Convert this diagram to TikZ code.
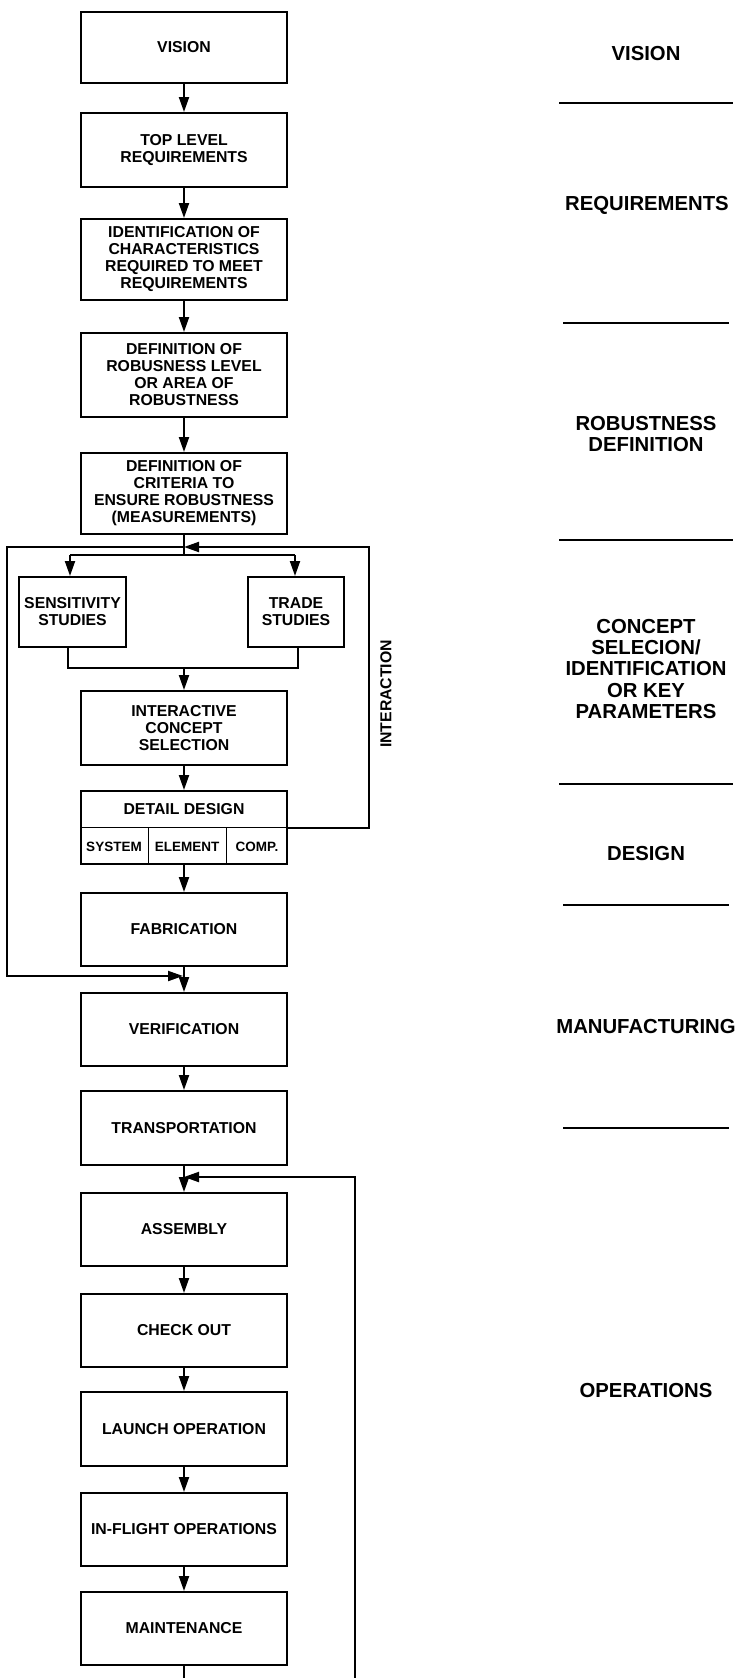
\documentclass[tikz,border=0pt]{standalone}
\usepackage{fontspec}
\setmainfont{Liberation Sans}
\usetikzlibrary{arrows.meta,calc}
\begin{document}
\begin{tikzpicture}[x=1pt,y=-1pt,
  box/.style={draw,line width=2pt,minimum width=206pt,inner sep=0pt,align=center,font=\bfseries\fontsize{15.8}{17}\selectfont},
  txt/.style={inner sep=0pt,align=center,font=\bfseries\fontsize{15.8}{17}\selectfont},
  small/.style={inner sep=0pt,align=center,font=\bfseries\fontsize{13.5}{14}\selectfont},
  lab/.style={align=center,inner sep=0pt,font=\bfseries\fontsize{20.3}{21.4}\selectfont},
  conn/.style={line width=2pt},
  arr/.style={line width=2pt,-{Triangle[length=15pt,width=10pt]}},
  sepline/.style={line width=2pt},
  thinline/.style={line width=1pt}]
\useasboundingbox (0,0) rectangle (739,1678);

% main column
\node[box,minimum height=71pt] (vision) at (184,47.5) {VISION};
\node[box,minimum height=74pt] (toplevel) at (184,150) {TOP LEVEL\\REQUIREMENTS};
\node[box,minimum height=81pt] (ident) at (184,259.5) {IDENTIFICATION OF\\CHARACTERISTICS\\REQUIRED TO MEET\\REQUIREMENTS};
\node[box,minimum height=84pt] (robus) at (184,375) {DEFINITION OF\\ROBUSNESS LEVEL\\OR AREA OF\\ROBUSTNESS};
\node[box,minimum height=81pt] (crit) at (184,493.5) {DEFINITION OF\\CRITERIA TO\\ENSURE ROBUSTNESS\\(MEASUREMENTS)};
\node[box,minimum width=107pt,minimum height=70pt] (sens) at (72.5,612) {SENSITIVITY\\STUDIES};
\node[box,minimum width=96pt,minimum height=70pt] (trade) at (296,612) {TRADE\\STUDIES};
\node[box,minimum height=74pt] (inter) at (184,728) {INTERACTIVE\\CONCEPT\\SELECTION};
\node[box,minimum height=73pt] (detail) at (184,827.5) {};
\node[box,minimum height=73pt] (fab) at (184,929.5) {FABRICATION};
\node[box,minimum height=73pt] (verif) at (184,1029.5) {VERIFICATION};
\node[box,minimum height=74pt] (trans) at (184,1128) {TRANSPORTATION};
\node[box,minimum height=73pt] (assem) at (184,1229.5) {ASSEMBLY};
\node[box,minimum height=73pt] (check) at (184,1330.5) {CHECK OUT};
\node[box,minimum height=74pt] (launch) at (184,1429) {LAUNCH OPERATION};
\node[box,minimum height=73pt] (inflight) at (184,1529.5) {IN-FLIGHT OPERATIONS};
\node[box,minimum height=73pt] (maint) at (184,1628.5) {MAINTENANCE};

% detail design internals
\draw[thinline] (detail.west) -- (detail.east);
\coordinate (d1) at (148,827.5);
\coordinate (d2) at (226,827.5);
\draw[thinline] (d1) -- (d1 |- detail.south);
\draw[thinline] (d2) -- (d2 |- detail.south);
\node[txt] (ddt) at (184,809) {DETAIL DESIGN};
\node[small] (sys) at (114,846.5) {SYSTEM};
\node[small] (elem) at (187,846.5) {ELEMENT};
\node[small] (comp) at (257,846.5) {COMP.};

% straight arrows
\draw[arr] (vision) -- (toplevel);
\draw[arr] (toplevel) -- (ident);
\draw[arr] (ident) -- (robus);
\draw[arr] (robus) -- (crit);
\draw[arr] (inter) -- (detail);
\draw[arr] (detail) -- (fab);
\draw[arr] (fab) -- (verif);
\draw[arr] (verif) -- (trans);
\draw[arr] (trans) -- (assem);
\draw[arr] (assem) -- (check);
\draw[arr] (check) -- (launch);
\draw[arr] (launch) -- (inflight);
\draw[arr] (inflight) -- (maint);

% branch to studies
\coordinate (br) at (184,555);
\coordinate (bl) at (70,555);
\coordinate (brr) at (295,555);
\draw[conn] (crit) -- (br);
\draw[conn] (bl) -- (brr);
\draw[arr] (bl) -- (bl |- sens.north);
\draw[arr] (brr) -- (brr |- trade.north);

% merge
\coordinate (ml) at (68,668);
\coordinate (mr) at (298,668);
\draw[conn] (ml |- sens.south) -- (ml) -- (mr) -- (mr |- trade.south);
\draw[arr] (inter.north |- ml) -- (inter);

% interaction loop
\coordinate (j1) at (184,547);
\coordinate (rt) at (369,547);
\draw[arr] (detail.east) -| (rt) -- (j1);
\node[txt,rotate=90] (ilab) at (386,694) {INTERACTION};

% outer left loop
\coordinate (lt) at (7,547);
\coordinate (lb) at (7,976);
\coordinate (j2) at (184,976);
\draw[arr,shorten >=1pt] (j1) -- (lt) -- (lb) -- (j2);

% bottom feedback
\coordinate (mb) at (184,1678);
\coordinate (rb) at (355,1678);
\coordinate (j3) at (184,1177);
\draw[conn] (maint) -- (mb);
\draw[arr] (rb) |- (j3);

% right column
\node[lab] (lvision) at (646,53.6) {VISION};
\node[lab] (lreq) at (647,205) {REQUIREMENTS};
\node[lab] (lrob) at (646,434) {ROBUSTNESS\\DEFINITION};
\node[lab] (lcon) at (646,669) {CONCEPT\\SELECION/\\IDENTIFICATION\\OR KEY\\PARAMETERS};
\node[lab] (ldes) at (646,854) {DESIGN};
\node[lab] (lman) at (646,1026) {MANUFACTURING};
\node[lab] (lops) at (646,1390) {OPERATIONS};

\draw[sepline] (559,102.5) -- (733,102.5);
\draw[sepline] (563,322.5) -- (729,322.5);
\draw[sepline] (559,540) -- (733,540);
\draw[sepline] (559,784) -- (733,784);
\draw[sepline] (563,905) -- (729,905);
\draw[sepline] (563,1128) -- (729,1128);
\end{tikzpicture}
\end{document}
